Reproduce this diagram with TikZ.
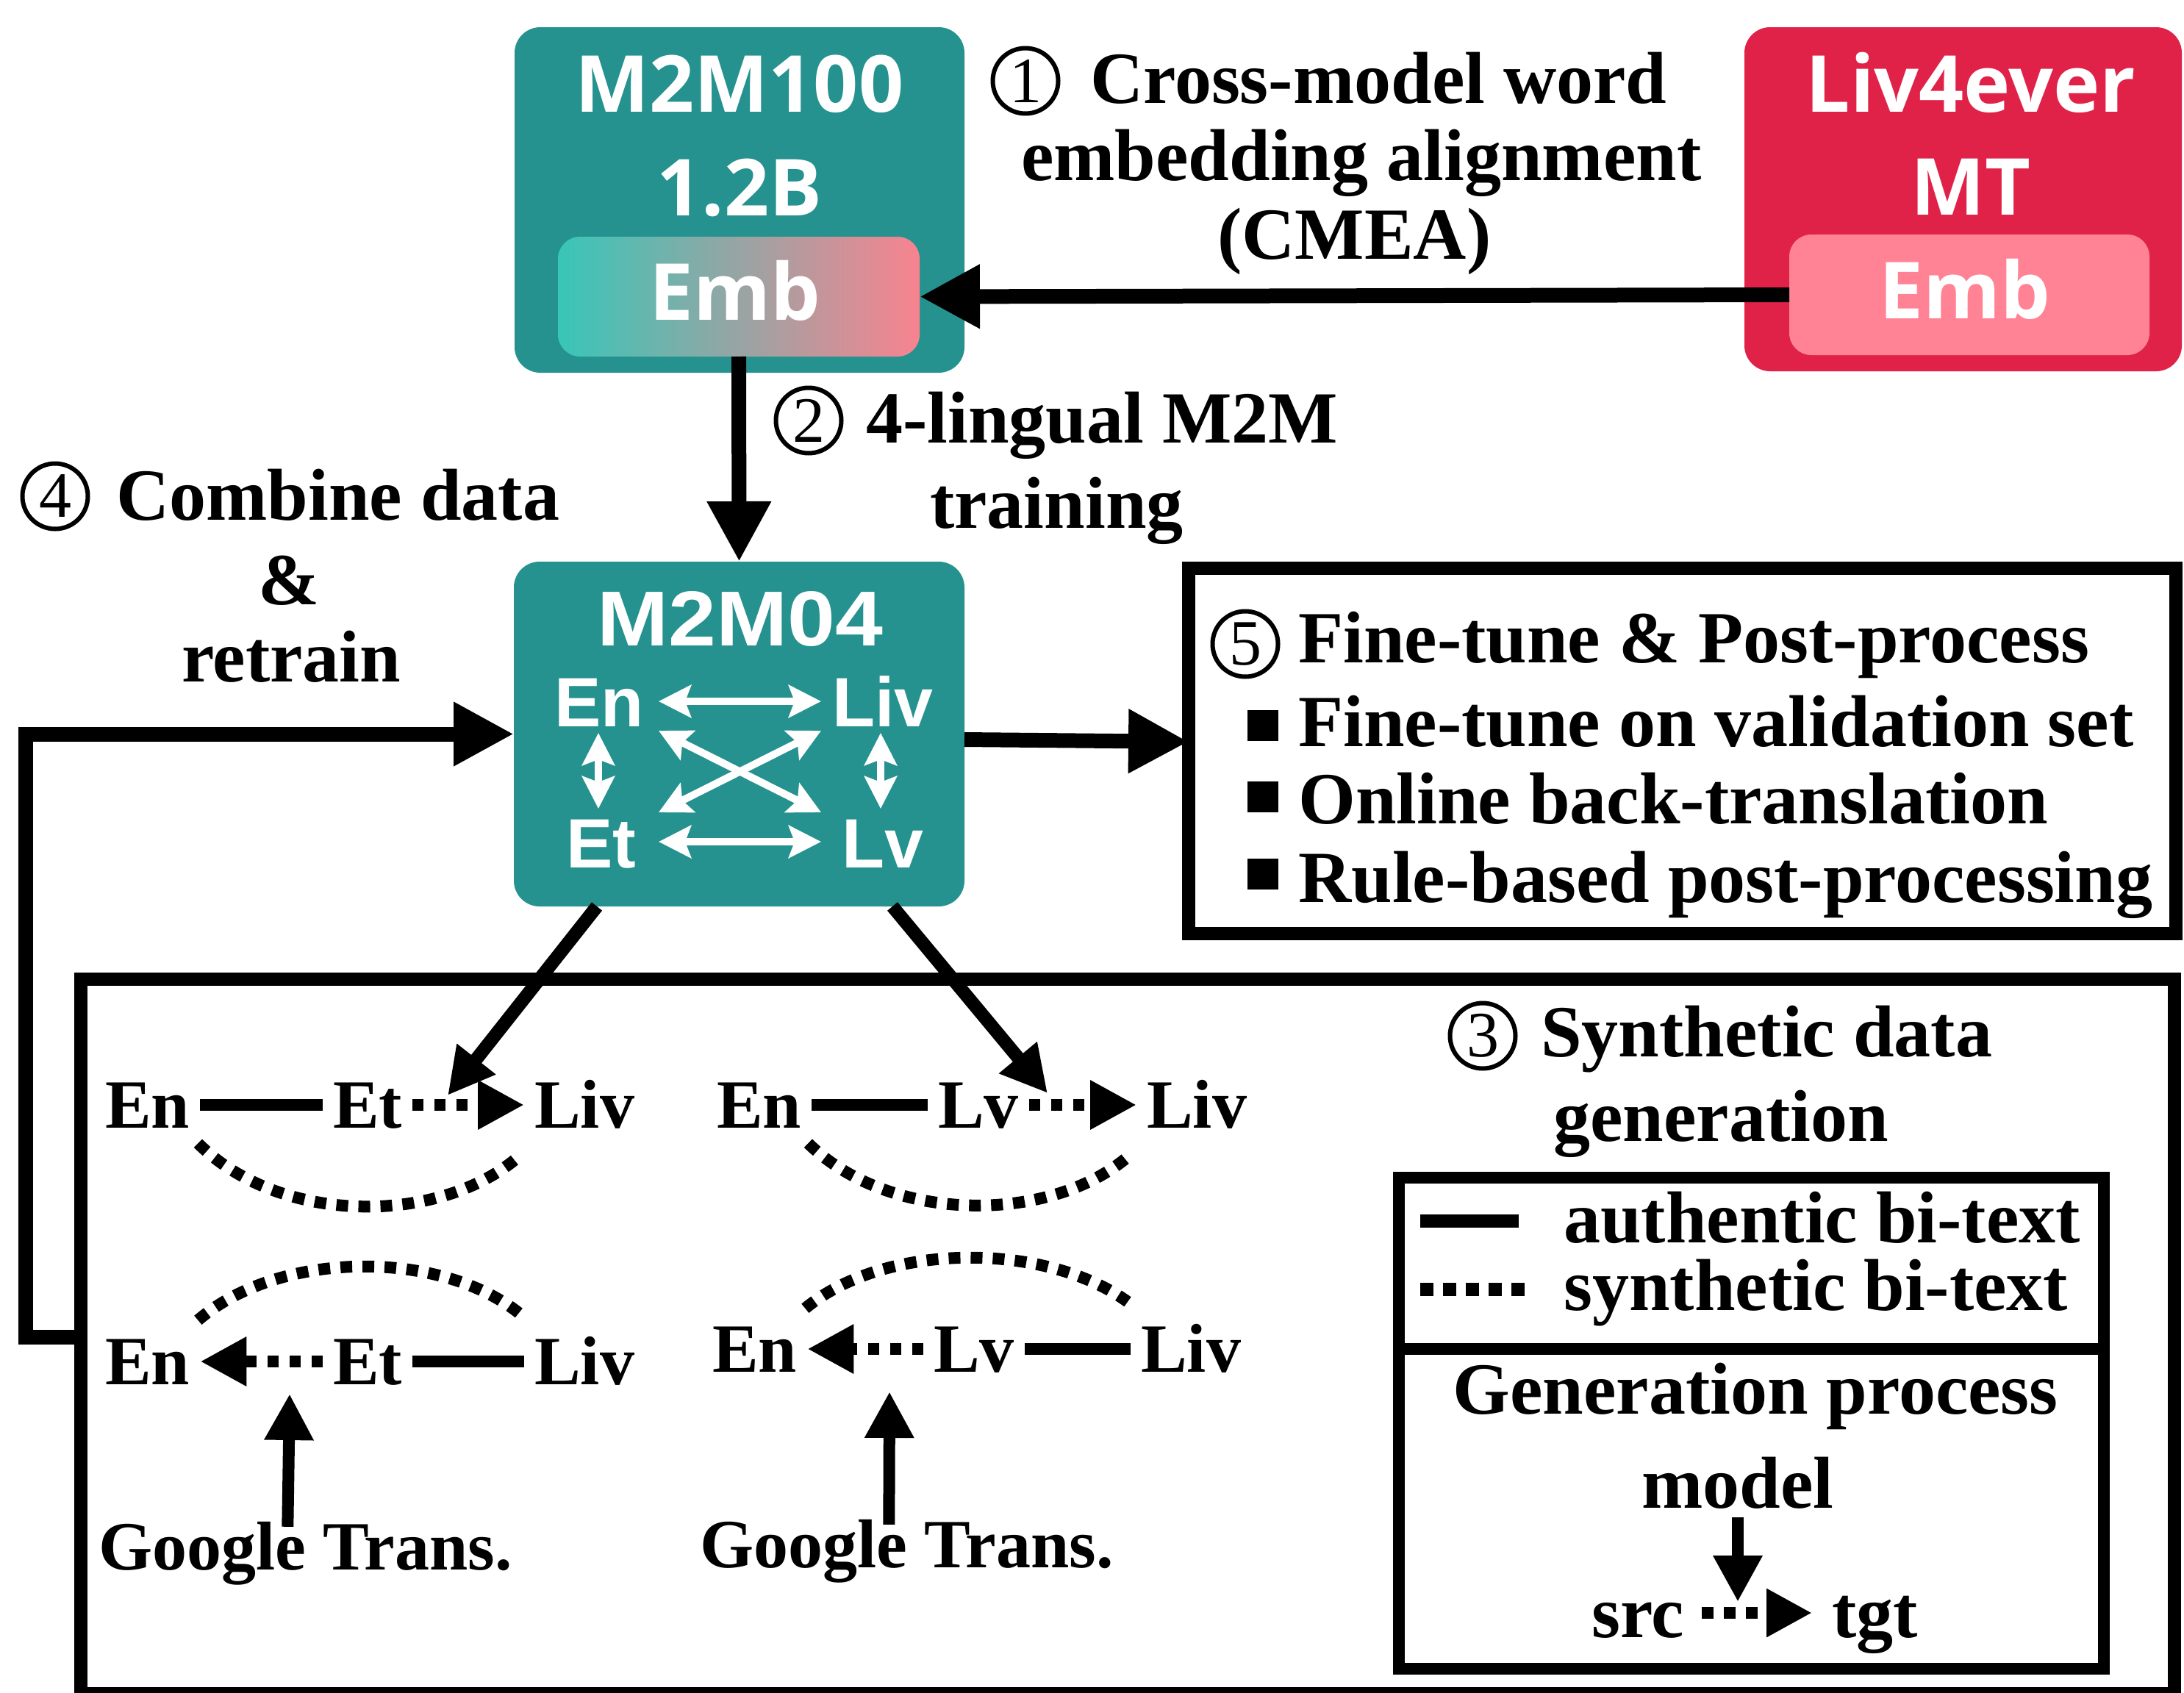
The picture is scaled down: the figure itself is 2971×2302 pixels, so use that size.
\documentclass[tikz,border=0pt]{standalone}
\usepackage{fontspec}
\setmainfont{Liberation Serif}
\newfontfamily\osans{Open Sans}
\newfontfamily\lsans{Liberation Sans}
\usetikzlibrary{arrows.meta}
\definecolor{tealM}{HTML}{25928F}
\definecolor{redM}{HTML}{E02249}
\definecolor{pinkM}{HTML}{FF8395}
\definecolor{gradL}{HTML}{38C6B8}
\definecolor{gradR}{HTML}{F8838F}
\newcommand\fsz[1]{\fontsize{#1}{#1}\selectfont}
\begin{document}
\begin{tikzpicture}[x=1pt,y=-1pt,
  modelbox/.style={rounded corners=35pt, inner sep=0pt, outer sep=0pt},
  embbox/.style={rounded corners=30pt, inner sep=0pt, outer sep=0pt},
  boxlbl/.style={text=white, inner sep=0pt, anchor=base, font=\osans\bfseries\fsz{107}},
  m4big/.style={text=white, inner sep=0pt, anchor=base, font=\lsans\bfseries\fsz{106}},
  m4lbl/.style={text=white, inner sep=0pt, anchor=base, font=\lsans\bfseries\fsz{95}},
  txt/.style={inner sep=0pt, anchor=base west, font=\bfseries\fsz{100}},
  syn/.style={inner sep=0pt, anchor=base west, font=\bfseries\fsz{94}, text height=62pt, text depth=0pt},
  leg/.style={inner sep=0pt, font=\bfseries\fsz{100}, text height=66pt, text depth=0pt},
  circnum/.style={circle, draw, line width=6pt, minimum size=89pt, inner sep=0pt, font=\fsz{88}},
  bulletsq/.style={fill=black, minimum size=42pt, inner sep=0pt},
  bigarrow/.style={line width=20pt, -{Triangle[length=82pt,width=82pt]}},
  midarrow/.style={line width=18pt, -{Triangle[length=63pt,width=63pt]}},
  smallarrow/.style={line width=16pt, -{Triangle[length=63pt,width=63pt]}},
  solidlink/.style={line width=16pt, shorten <=14pt, shorten >=14pt},
  dotlink/.style={line width=16pt, dash pattern=on 15pt off 15pt, shorten <=14pt, shorten >=14pt},
  dotarrow/.style={line width=16pt, dash pattern=on 15pt off 15pt, shorten <=14pt, shorten >=14pt, -{Triangle[length=63pt,width=63pt]}},
  dotcurve/.style={line width=16pt, dash pattern=on 16pt off 14pt},
  whitearrow/.style={white, line width=10pt, {Stealth[length=44pt,width=44pt,inset=8pt]}-{Stealth[length=44pt,width=44pt,inset=8pt]}},
  frame/.style={draw, line width=18pt, inner sep=0pt, outer sep=0pt}
]
\useasboundingbox (0,0) rectangle (2971,2302);

% ---------- M2M100 model ----------
\node[modelbox, fill=tealM, minimum width=612pt, minimum height=470pt] (m2m100) at (1006,272) {};
\node[boxlbl] (t100) at (1006,152) {M2M100};
\node[boxlbl] (t12b) at (1006,293) {1.2B};
\node[embbox, left color=gradL, right color=gradR, minimum width=492pt, minimum height=163pt] (embA) at (1005,403.5) {};
\node[boxlbl] (tembA) at (1000,435) {Emb};

% ---------- Liv4ever MT ----------
\node[modelbox, fill=redM, minimum width=595pt, minimum height=468pt] (liv) at (2670.5,271) {};
\node[boxlbl] (tliv) at (2681,152) {Liv4ever};
\node[boxlbl] (tmt) at (2681,292) {MT};
\node[embbox, fill=pinkM, minimum width=490pt, minimum height=164pt] (embB) at (2679,401) {};
\node[boxlbl] (tembB) at (2673,433) {Emb};

% CMEA arrow
\draw[bigarrow] (embB.west) -- (embA.east);
\node[circnum] (c1) at (1395,110) {1};
\node[txt] (cm1) at (1483,140) {Cross-model word};
\node[txt] (cm2) at (1389,245) {embedding alignment};
\node[txt] (cm3) at (1656,352) {(CMEA)};

% ---------- M2M04 ----------
\node[modelbox, fill=tealM, minimum width=613pt, minimum height=469pt] (m2m04) at (1005.5,998.5) {};
\node[m4big] (t04) at (1007,878) {\scalebox{1.1}[1]{M2M04}};
\node[m4lbl] (ken) at (815,988) {En};
\node[m4lbl] (kliv) at (1201,988) {Liv};
\node[m4lbl] (ket) at (818,1180) {Et};
\node[m4lbl] (klv) at (1201,1180) {Lv};
\coordinate (wa1) at (896,954);   \coordinate (wa2) at (1117,954);
\coordinate (wb1) at (896,1145);  \coordinate (wb2) at (1117,1145);
\coordinate (wc1) at (814,997);   \coordinate (wc2) at (814,1100);
\coordinate (wd1) at (1198,997);  \coordinate (wd2) at (1198,1100);
\coordinate (we1) at (896,994);   \coordinate (we2) at (1117,1105);
\coordinate (wf1) at (1117,994);  \coordinate (wf2) at (896,1105);
\draw[whitearrow] (wa1) -- (wa2);
\draw[whitearrow] (wb1) -- (wb2);
\draw[whitearrow] (wc1) -- (wc2);
\draw[whitearrow] (wd1) -- (wd2);
\draw[whitearrow] (we1) -- (we2);
\draw[whitearrow] (wf1) -- (wf2);

% step 2 arrow
\draw[bigarrow] (embA.south) -- (m2m04.north);
\node[circnum] (c2) at (1100,572) {2};
\node[txt] (s2a) at (1178,602) {4-lingual M2M};
\node[txt] (s2b) at (1265,718) {training};

% ---------- step 5 box ----------
\node[frame, line width=18pt, minimum width=1343pt, minimum height=497pt] (box5) at (2288.5,1021.5) {};
\draw[bigarrow] ([yshift=-7.5pt]m2m04.east) -- ([yshift=12.5pt]box5.west);
\node[circnum] (c5) at (1694,876) {5};
\node[txt] (h5) at (1766,901) {Fine-tune \& Post-process};
\node[bulletsq] (b1) at (1718,987) {};
\node[bulletsq] (b2) at (1718,1084) {};
\node[bulletsq] (b3) at (1718,1189) {};
\node[txt] (l1) at (1766,1015) {Fine-tune on validation set};
\node[txt] (l2) at (1766,1120) {Online back-translation};
\node[txt] (l3) at (1766,1227) {Rule-based post-processing};

% ---------- synthetic data box ----------
\node[frame, minimum width=2848pt, minimum height=972pt] (synbox) at (1534,1818) {};
\coordinate (fb) at (34.5,1819);
\draw[bigarrow] (synbox.west |- fb) -- (fb) |- (m2m04.west);
\node[circnum] (c4) at (75,675) {4};
\node[txt] (s4a) at (158,707) {Combine data};
\node[txt, anchor=base] (s4b) at (393,822) {\&};
\node[txt] (s4c) at (247,927) {retrain};

\node[circnum] (c3) at (2017,1409) {3};
\node[txt] (s3a) at (2096,1437) {Synthetic data};
\node[txt] (s3b) at (2113,1552) {generation};

% group 1 (Et pivot)
\node[syn] (en1) at (143,1534) {En};
\node[syn] (et1) at (453,1534) {Et};
\node[syn] (liv1) at (727,1534) {Liv};
\draw[solidlink] (en1.east) -- (et1.west);
\draw[dotarrow] (et1.east) -- (liv1.west);
\draw[dotcurve] ([shift={(11,21)}]en1.south east) .. controls +(112,112) and +(-108,96) .. ([shift={(-19,37)}]liv1.south west);
\coordinate (tipA) at (609,1490);
\draw[midarrow] ([xshift=113pt]m2m04.south west) -- (tipA);

\node[syn] (en2) at (143,1883) {En};
\node[syn] (et2) at (453,1883) {Et};
\node[syn] (liv2) at (727,1883) {Liv};
\draw[dotarrow] (et2.west) -- (en2.east);
\draw[solidlink] (et2.east) -- (liv2.west);
\draw[dotcurve] ([shift={(11,-25)}]en2.north east) .. controls +(112,-96) and +(-108,-88) .. ([shift={(-19,-33)}]liv2.north west);
\node[syn] (g1) at (134,2135) {Google Trans.};
\coordinate (tipG1) at (394,1896);
\draw[smallarrow] ([xshift=-24pt,yshift=-4pt]g1.north) -- (tipG1);

% group 2 (Lv pivot)
\node[syn] (en3) at (975,1534) {En};
\node[syn] (lv3) at (1276,1534) {Lv};
\node[syn] (liv3) at (1560,1534) {Liv};
\draw[solidlink] (en3.east) -- (lv3.west);
\draw[dotarrow] (lv3.east) -- (liv3.west);
\draw[dotcurve] ([shift={(9,21)}]en3.south east) .. controls +(112,110) and +(-107,94) .. ([shift={(-23,37)}]liv3.south west);
\coordinate (tipB) at (1425,1487);
\draw[midarrow] ([xshift=-98pt]m2m04.south east) -- (tipB);

\node[syn] (en4) at (969,1866) {En};
\node[syn] (lv4) at (1270,1866) {Lv};
\node[syn] (liv4) at (1552,1866) {Liv};
\draw[dotarrow] (lv4.west) -- (en4.east);
\draw[solidlink] (lv4.east) -- (liv4.west);
\draw[dotcurve] ([shift={(11,-24)}]en4.north east) .. controls +(108,-90) and +(-114,-82) .. ([shift={(-18,-33)}]liv4.north west);
\node[syn] (g2) at (952,2132) {Google Trans.};
\coordinate (tipG2) at (1210,1893);
\draw[smallarrow] ([xshift=-24pt,yshift=-4pt]g2.north) -- (tipG2);

% ---------- legend ----------
\node[frame, line width=16pt, minimum width=959pt, minimum height=668pt] (legend) at (2382.5,1936) {};
\coordinate (div) at (0,1835);
\draw[line width=16pt] (legend.west |- div) -- (legend.east |- div);
\coordinate (ls1) at (1932,1661); \coordinate (ls2) at (2066,1661);
\coordinate (ld1) at (1932,1754); \coordinate (ld2) at (2075,1754);
\draw[line width=18pt] (ls1) -- (ls2);
\draw[line width=18pt, dash pattern=on 18pt off 13pt] (ld1) -- (ld2);
\node[txt] (la) at (2127,1690) {authentic bi-text};
\node[txt] (lb) at (2127,1782) {synthetic bi-text};
\node[txt, anchor=base] (gp) at (2388,1923) {Generation process};
\node[leg, anchor=base] (model) at (2364,2051) {model};
\node[leg, anchor=base west] (src) at (2165,2227) {src};
\node[leg, anchor=base west] (tgt) at (2492,2227) {tgt};
\draw[line width=16pt, dash pattern=on 16pt off 14pt, shorten <=24pt, shorten >=27pt, -{Triangle[length=62pt,width=62pt]}] (src.east) -- (tgt.west);
\coordinate (tipM) at (2364,2179);
\draw[smallarrow, shorten <=13pt] (model.south) -- (tipM);
\end{tikzpicture}
\end{document}
